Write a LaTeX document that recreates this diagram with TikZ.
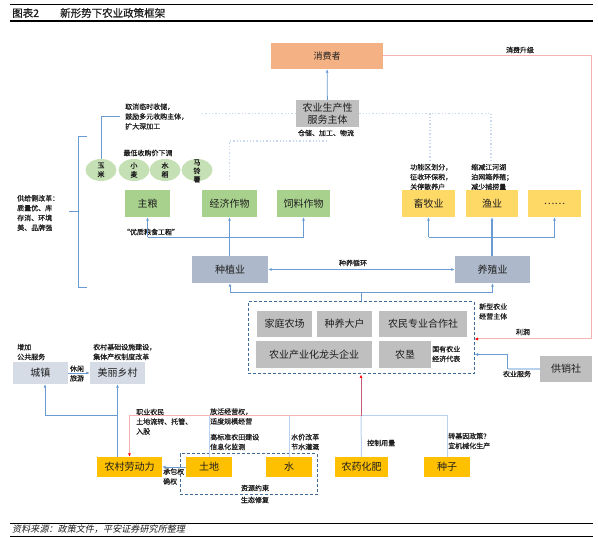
\documentclass[tikz,border=0pt]{standalone}
\usepackage{fontspec}
\setmainfont{Noto Sans CJK SC}
\newfontfamily\slantfont[FakeSlant=0.2]{Noto Sans CJK SC}
\newfontfamily\notefont[FakeBold=0.6]{Noto Sans CJK SC}
\usetikzlibrary{shapes.geometric, arrows.meta, positioning, math, calc}

\definecolor{lineBlue}{RGB}{106,155,211}
\definecolor{paleBlue}{RGB}{184,210,238}
\definecolor{dotBlue}{RGB}{200,216,242}
\definecolor{pinkLine}{RGB}{245,178,178}
\definecolor{wineRed}{RGB}{196,92,122}
\definecolor{dashBlue}{RGB}{60,105,152}
\definecolor{peach}{RGB}{244,177,131}
\definecolor{greyFill}{RGB}{191,191,191}
\definecolor{beanGreen}{RGB}{197,224,180}
\definecolor{leafGreen}{RGB}{169,209,142}
\definecolor{butter}{RGB}{255,217,102}
\definecolor{slate}{RGB}{173,185,202}
\definecolor{mist}{RGB}{214,220,229}
\definecolor{gold}{RGB}{255,192,0}
\definecolor{ink}{RGB}{30,30,30}

\begin{document}
\begin{tikzpicture}[
				x=1pt, y=-1pt,
				every node/.style={text=ink, inner sep=0pt},
				BlueLine/.style={draw=lineBlue, line width=0.8pt},
				BlueArrow/.style={BlueLine, -{Latex[length=3.5pt,width=3pt]}},
				PaleLine/.style={draw=paleBlue, line width=1pt},
				DotLine/.style={draw=dotBlue, line width=1.3pt, dotted},
				PinkArrow/.style={draw=pinkLine, line width=1pt, -{Latex[length=3.5pt,width=3pt,red]}},
				WineArrow/.style={draw=wineRed, line width=1pt, -{Latex[length=3.5pt,width=3pt,red]}}
			]
			\tikzmath{
				\boxH        = 27;   %box height
				\goldH       = 20;   %lower box height
				\beanW       = 31;   %ellipse width
				\beanH       = 22;   %ellipse height
			}
			\tikzstyle{Box} = [
				minimum height=\boxH pt,
				text centered,
				font=\fontsize{10}{12}\selectfont
			]
			\tikzstyle{GoldBox} = [Box, fill=gold, minimum height=\goldH pt]
			\tikzstyle{Bean} = [ellipse, fill=beanGreen, minimum width=\beanW pt, minimum height=\beanH pt]
			\tikzstyle{BeanText} = [align=center, font=\notefont\fontsize{7}{9}\selectfont]
			\tikzstyle{Note} = [anchor=west, align=left, font=\notefont\fontsize{7}{9.8}\selectfont]
			\tikzstyle{DashBox} = [draw=dashBlue, line width=1pt, dash pattern=on 3pt off 2pt]

			\useasboundingbox (0,0) rectangle (598,537);

			% header and footer
			\draw[line width=0.9pt] (10,4.5) -- (593,4.5);
			\draw[line width=1.3pt] (10,21) -- (593,21);
			\node (figNo) [anchor=west, font=\notefont\fontsize{10.5}{12}\selectfont] at (12,13) {图表2};
			\node (figTitle) [anchor=west, font=\notefont\fontsize{10.5}{12}\selectfont] at (60,13) {新形势下农业政策框架};
			\draw[line width=0.9pt] (10,523) -- (593,523);
			\draw[line width=0.9pt] (10,536) -- (593,536);
			\node (source) [anchor=west, font=\slantfont\fontsize{9.1}{11}\selectfont] at (12,529.5) {资料来源：政策文件，平安证券研究所整理};

			\coordinate (profitTurn) at (591,339);
			\coordinate (serviceTail) at (327,141);
			\coordinate (stockNoteTop) at (430,160);
			\coordinate (fishNoteTop) at (491,160);
			\coordinate (cropRail) at (0,237);
			\coordinate (railMid) at (361,416);

			% top
			\node (consumer) [Box, fill=peach, minimum width=112pt, minimum height=26pt, font=\fontsize{9}{11}\selectfont] at (327,56) {消费者};
			\node (service) [Box, fill=greyFill, minimum width=63pt, align=center, font=\fontsize{10}{11.5}\selectfont] at (327.5,113.5) {农业生产性\\服务主体};
			\node (storeNote) [Note, anchor=center] at (326,133) {仓储、加工、物流};
			\node (upgradeNote) [Note, anchor=center] at (520,50) {消费升级};
			\node (profitNote) [Note, anchor=center] at (523,332) {利润};

			% crops
			\node (buyNote) [Note] at (125,116.5) {取消临时收储，\\鼓励多元收购主体，\\扩大深加工};
			\node (priceNote) [Note, anchor=center] at (148,153) {最低收购价下调};
			\node (corn) [Bean] at (101,170) {};
			\node (wheat) [Bean] at (134,170) {};
			\node (rice) [Bean] at (165,170) {};
			\node (potato) [Bean] at (197,170) {};
			\node (cornText) [BeanText] at (corn) {玉\\米};
			\node (wheatText) [BeanText] at (wheat) {小\\麦};
			\node (riceText) [BeanText] at (rice) {水\\稻};
			\node (potatoText) [BeanText, font=\notefont\fontsize{7}{8.5}\selectfont] at ($(potato)+(0,1)$) {马\\铃\\薯};
			\node (reformNote) [Note] at (17,213) {供给侧改革：\\质量优、库\\存消、环境\\美、品牌强};
			\node (grain) [Box, fill=leafGreen, minimum width=45pt] at (147.5,203.5) {主粮};
			\node (cash) [Box, fill=leafGreen, minimum width=55pt] at (229.5,203.5) {经济作物};
			\node (feed) [Box, fill=leafGreen, minimum width=53pt] at (303.5,203.5) {饲料作物};
			\node (qualityNote) [Note, anchor=center] at (151,232) {“优质粮食工程”};

			% animals
			\node (stockNote) [Note] at (410,177) {功能区划分，\\征收环保税，\\关停散养户};
			\node (fishNote) [Note] at (471,177) {缩减江河湖\\泊网箱养殖；\\减少捕捞量};
			\node (livestock) [Box, fill=butter, minimum width=53pt] at (428.5,203.5) {畜牧业};
			\node (fishery) [Box, fill=butter, minimum width=52pt] at (492,203.5) {渔业};
			\node (others) [Box, fill=butter, minimum width=53pt] at (554.5,203.5) {……};

			\node (planting) [Box, fill=slate, minimum width=76pt] at (230,269.5) {种植业};
			\node (breeding) [Box, fill=slate, minimum width=75pt] at (492.5,269.5) {养殖业};
			\node (cycleNote) [Note, anchor=center] at (353,263) {种养循环};

			% new agents
			\node (newAgent) [DashBox, minimum width=226pt, minimum height=72pt] at (361,338) {};
			\node (family) [Box, fill=greyFill, minimum width=55pt, minimum height=26pt] at (284.5,324) {家庭农场};
			\node (bigHouse) [Box, fill=greyFill, minimum width=55pt, minimum height=26pt] at (344.5,324) {种养大户};
			\node (coop) [Box, fill=greyFill, minimum width=88pt, minimum height=26pt] at (423,324) {农民专业合作社};
			\node (leader) [Box, fill=greyFill, minimum width=116pt] at (314,354.5) {农业产业化龙头企业};
			\node (reclaim) [Box, fill=greyFill, minimum width=52pt] at (405,354.5) {农垦};
			\node (stateNote) [Note] at (432,354) {国有农业\\经济代表};
			\node (agentNote) [Note] at (479,311.5) {新型农业\\经营主体};
			\node (supply) [Box, fill=greyFill, minimum width=52pt, minimum height=26pt] at (566,369) {供销社};
			\node (serveNote) [Note, anchor=center] at (517,374) {农业服务};

			% countryside
			\node (town) [Box, fill=mist, minimum width=55pt, minimum height=22pt] at (40.5,373) {城镇};
			\node (village) [Box, fill=mist, minimum width=55pt, minimum height=22pt] at (117.5,373) {美丽乡村};
			\node (publicNote) [Note] at (17,352) {增加\\公共服务};
			\node (ruralNote) [Note] at (93,352) {农村基础设施建设，\\集体产权制度改革};
			\node (leisureNote) [Note, anchor=center, align=center, font=\notefont\fontsize{7}{9.5}\selectfont] at (77,373.5) {休闲\\旅游};

			% factors
			\node (resource) [DashBox, minimum width=137pt, minimum height=41pt] at (248.5,474.5) {};
			\node (labor) [GoldBox, minimum width=65pt] at (129.5,467) {农村劳动力};
			\node (land) [GoldBox, minimum width=46pt] at (209,467) {土地};
			\node (water) [GoldBox, minimum width=46pt] at (289,467) {水};
			\node (fert) [GoldBox, minimum width=53pt] at (361.5,467) {农药化肥};
			\node (seed) [GoldBox, minimum width=46pt] at (447,467) {种子};
			\node (farmerNote) [Note] at (136,412) {职业农民};
			\node (transferNote) [Note] at (136,426.5) {土地流转、托管、\\入股};
			\node (rightNote) [Note] at (210,416.5) {放活经营权，\\适度规模经营};
			\node (fieldNote) [Note] at (210,442) {高标准农田建设\\信息化监测};
			\node (waterNote) [Note] at (291,442) {水价改革\\节水灌溉};
			\node (dosageNote) [Note] at (367,443) {控制用量};
			\node (seedNote) [Note] at (448,441) {转基因政策？\\宜机械化生产};
			\node (contractNote) [Note] at (163,476.5) {承包权\\确权};
			\node (resourceNote) [Note, anchor=center, align=center, font=\notefont\fontsize{7}{12}\selectfont] at (255,494) {资源约束\\生态修复};

			% connectors
			\draw[BlueArrow] (service) -- (consumer);
			\draw[PinkArrow] (consumer.east) -| (profitTurn) -- (newAgent.east |- profitTurn);
			\draw[DotLine] (service.west) -- ++(-94,0);
			\draw[DotLine] (service.east) -| (fishNoteTop);
			\draw[DotLine] (stockNoteTop |- service.east) -- (stockNoteTop);
			\draw[DotLine] (serviceTail) -| ($(cash.north)+(0,-10)$);
			\draw[BlueLine] ($(buyNote.west)+(-5,0)$) -| (corn.north);
			\draw[BlueLine] (87,136) -- (78,136) -- (78,287) -- (87,287);
			\draw[BlueLine] (69,211) -- (78,211);

			\draw[BlueArrow, line width=1.2pt] (planting.north -| cash) -- (cash.south);
			\draw[BlueLine] (grain.south |- cropRail) -- (feed.south |- cropRail);
			\draw[BlueArrow] (grain.south |- cropRail) -- (grain.south);
			\draw[BlueArrow] (feed.south |- cropRail) -- (feed.south);
			\draw[BlueArrow, line width=1.2pt] (breeding.north -| fishery) -- (fishery.south);
			\draw[BlueLine] (livestock.south |- cropRail) -- (others.south |- cropRail);
			\draw[BlueArrow] (livestock.south |- cropRail) -- (livestock.south);
			\draw[BlueArrow] (others.south |- cropRail) -- (others.south);
			\draw[BlueLine, {Latex[length=3.5pt,width=3pt]}-{Latex[length=3.5pt,width=3pt]}] (planting.east) -- (breeding.west);

			\draw[BlueLine] (newAgent.north) -- ++(0,-9) coordinate (agentUp);
			\draw[BlueArrow] (agentUp) -| (planting.south);
			\draw[BlueArrow] (agentUp) -| (breeding.south);
			\draw[PaleLine, line width=2pt] (supply.west) -- ++(-32,0) coordinate (supplyTurn);
			\draw[BlueArrow] (supplyTurn) |- (newAgent.east |- reclaim);

			\draw[BlueArrow] (town.east) -- (village.west);
			\draw[BlueArrow] (labor.north -| village.south) -- (village.south);
			\draw[BlueArrow] (village.south |- 0,415) -| ($(town.south)+(4.5,0)$);
			\draw[BlueArrow] (land.west) -- (labor.east);

			\draw[PaleLine] (land.north) -- (land.north |- railMid);
			\draw[PaleLine] (water.north) -- (water.north |- railMid);
			\draw[PaleLine] (fert.north) -- (railMid);
			\draw[PaleLine] (seed.north) |- (railMid);
			\draw[PinkArrow] (railMid) -| (labor.north);
			\draw[WineArrow] (railMid) -- (newAgent.south);
		\end{tikzpicture}
\end{document}
